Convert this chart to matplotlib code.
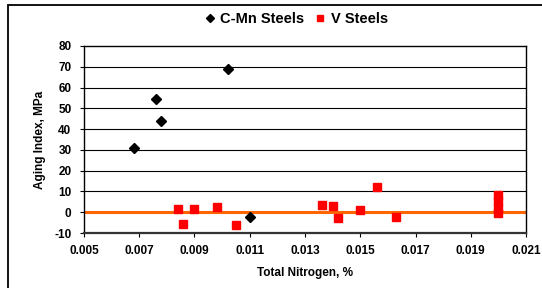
import matplotlib
matplotlib.use("Agg")
import matplotlib.pyplot as plt
from matplotlib.lines import Line2D
from matplotlib.patches import Rectangle

plt.rcParams['font.family'] = ['Liberation Sans', 'DejaVu Sans']

# Data
cmn_n = [0.0068, 0.0076, 0.0078, 0.0102, 0.0110]
cmn_ai = [31, 54.5, 44, 69, -2.5]

v_n = [0.0084, 0.0086, 0.0090, 0.0098, 0.0105, 0.0136, 0.0140, 0.0142,
       0.0150, 0.0156, 0.0163, 0.0200, 0.0200, 0.0200, 0.0200]
v_ai = [1.7, -5.5, 1.7, 2.7, -6, 3.3, 2.9, -2.6,
        1.2, 12.3, -2.3, 8.5, 5.3, 1.8, -0.4]

x_ticks = [0.005, 0.007, 0.009, 0.011, 0.013, 0.015, 0.017, 0.019, 0.021]
y_ticks = [-10, 0, 10, 20, 30, 40, 50, 60, 70, 80]

fig = plt.figure(figsize=(5.42, 2.88), dpi=100)
ax = fig.add_axes([84/542, 1-233/288, (526-84)/542, (233-46)/288])

# outer frame
fig.patches.append(Rectangle((8/542, -0.1), 1.2, 1-5/288+0.1, transform=fig.transFigure,
                             fill=False, edgecolor='black', linewidth=1.3, clip_on=False))

for y in y_ticks[2:-1]:
    ax.axhline(y, color='black', linewidth=0.8, zorder=1)

ax.axhline(0, color='#FF6600', linewidth=2.2, zorder=2)

ax.plot(cmn_n, cmn_ai, linestyle='none', marker='D', markersize=5,
        color='black', zorder=4)
ax.plot(v_n, v_ai, linestyle='none', marker='s', markersize=5.2,
        color='#FF0000', markeredgecolor='#FF0000', zorder=3)

ax.set_xlim(0.005, 0.021)
ax.set_ylim(-10, 80)
ax.set_xticks(x_ticks)
ax.set_xticklabels([f"{v:.3f}" for v in x_ticks])
ax.set_yticks(y_ticks)
ax.set_yticklabels([str(v) for v in y_ticks])
ax.tick_params(axis='both', direction='out', length=3, width=0.8,
               labelsize=8.5, pad=6, color='black')
for lab in ax.get_xticklabels() + ax.get_yticklabels():
    lab.set_fontweight('bold')

for s in ['left', 'right', 'top']:
    ax.spines[s].set_color('black')
    ax.spines[s].set_linewidth(1.0)
ax.spines['bottom'].set_color('#333333')
ax.spines['bottom'].set_linewidth(1.6)

ax.set_xlabel('Total Nitrogen, %', fontsize=8.5, fontweight='bold', labelpad=7)
ax.set_ylabel('Aging Index, MPa', fontsize=8.5, fontweight='bold', labelpad=6)

handles = [Line2D([], [], linestyle='none', marker='D', markersize=4, color='black'),
           Line2D([], [], linestyle='none', marker='s', markersize=5, color='#FF0000')]
fig.legend(handles, ['C-Mn Steels', 'V Steels'], loc='center', ncol=2,
           bbox_to_anchor=(296/542, 1-19/288), frameon=False,
           prop={'weight': 'bold', 'size': 10.5}, handlelength=0.8,
           handletextpad=0.3, columnspacing=0.7)

fig.savefig('out.png', dpi=100)
